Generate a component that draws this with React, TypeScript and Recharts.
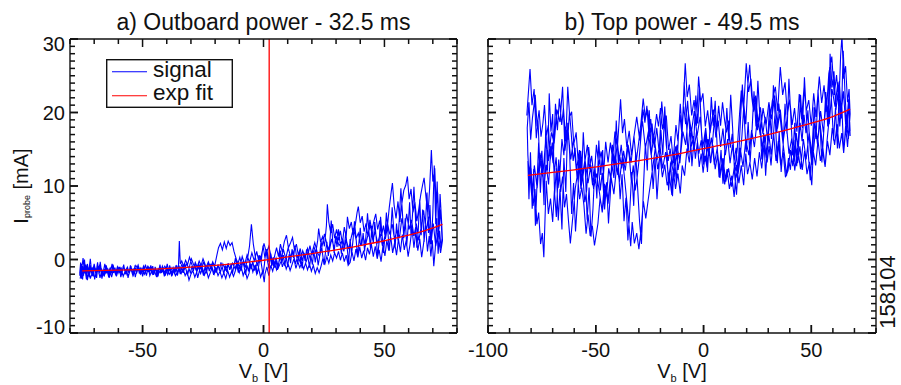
import React from 'react';
import { LineChart, Line, XAxis, YAxis, ReferenceLine, Legend } from 'recharts';

// ---- data (V_b [V], I_probe [mA]) ----

// a) outboard power, 32.5 ms
const outboardDense: number[][] = [
  [-76.0, -1.9], [-75.6, -0.4], [-75.2, -2.6], [-74.8, -0.9], [-74.4, -2.2], [-74.0, 0.0], [-73.6, -1.8], [-73.2, -2.7],
  [-72.8, -0.6], [-72.4, -1.6], [-72.0, -2.4], [-71.6, -0.8], [-71.2, -1.9], [-70.8, -1.1], [-70.4, -2.3], [-70.0, -0.9],
  [-69.5, -1.7], [-69.0, -2.5], [-68.5, -1.0], [-68.0, -1.9], [-67.5, -0.3], [-67.0, -1.6], [-66.5, -2.3], [-66.0, -1.2],
  [-65.5, -2.0], [-65.0, -0.8], [-64.5, -1.7], [-64.0, -2.4], [-63.4, -1.1], [-62.8, -1.9], [-62.2, -0.7], [-61.6, -1.6],
  [-61.0, -2.2], [-60.4, -1.0], [-59.8, -1.8], [-59.2, -1.2], [-58.6, -2.1], [-58.0, -0.9], [-57.4, -1.5], [-56.8, -2.0],
  [-56.2, -1.1], [-55.6, -1.7], [-55.0, -0.8], [-54.4, -1.6], [-53.8, -2.1], [-53.2, -1.0], [-52.6, -1.5], [-52.0, -0.9],
  [-51.4, -1.8], [-50.8, -1.2], [-50.2, -1.9], [-49.6, -0.9], [-49.0, -1.4], [-48.4, -2.2], [-47.8, -1.3], [-47.2, -1.8],
  [-46.6, -0.8], [-46.0, -1.5], [-45.4, -2.1], [-44.8, -1.0], [-44.2, -1.6], [-43.6, -2.3], [-43.0, -1.1], [-42.4, -1.7],
  [-41.8, -0.9], [-41.2, -1.5], [-40.6, -2.2], [-40.0, -1.2], [-39.4, -1.8], [-38.8, -0.8], [-38.2, -1.5], [-37.6, -2.0],
  [-37.0, -1.1], [-36.4, -1.6], [-35.8, -0.9], [-35.2, -1.4], [-34.8, 2.5], [-34.4, -0.6],
];

const outboardUp: number[][] = [
  [-33.8, -0.2], [-33.0, -0.9], [-32.2, -0.1], [-31.4, -0.7], [-30.6, 0.3], [-29.8, -0.5], [-29.0, -1.3], [-28.2, -0.4],
  [-27.4, -1.0], [-26.6, -0.2], [-25.8, -0.8], [-25.0, 0.1], [-24.2, -0.6], [-23.4, -1.4], [-22.6, -0.5], [-21.8, -1.1],
  [-21.0, -0.3], [-20.2, -0.9], [-19.4, 0.4], [-18.6, 1.6], [-17.8, 2.2], [-17.0, 1.3], [-16.2, 2.4], [-15.4, 1.5],
  [-14.6, 2.5], [-13.8, 1.9], [-13.0, 2.3], [-12.2, 1.1], [-11.4, 0.2], [-10.6, -0.6], [-9.8, 0.3], [-9.0, -0.8],
  [-8.2, -0.2], [-7.4, -1.1], [-6.6, 0.1], [-5.8, 1.8], [-5.0, 4.8], [-4.2, 2.1], [-3.4, 0.4], [-2.6, -0.9],
  [-1.8, 0.6], [-1.0, -0.4], [-0.2, 1.9], [0.6, 0.2], [1.4, 1.4], [2.2, -0.3], [3.0, 0.8], [3.8, -0.6],
  [4.6, 0.5], [5.4, 1.6], [6.2, 0.4], [7.0, 2.1], [7.8, 1.0], [8.6, 2.4], [9.5, 3.3], [10.3, 1.6],
  [11.1, 2.2], [12.0, 3.0], [12.8, 1.3], [13.6, 2.1], [14.4, 0.6], [15.2, 1.5], [16.0, -0.2], [16.8, 0.9],
  [17.6, -0.4], [18.4, 0.7], [19.2, 1.9], [20.0, 0.6], [20.8, 1.8], [21.6, 0.9], [22.4, 2.6], [22.8, 4.2],
  [23.6, 2.4], [24.4, 3.1], [25.2, 1.8], [26.0, 4.6], [26.4, 7.5], [27.0, 5.1], [27.8, 3.6], [28.6, 4.8],
  [29.4, 2.9], [30.2, 4.1], [31.0, 2.6], [31.8, 3.9], [32.6, 2.2], [33.4, 4.4], [34.2, 3.1], [34.7, 5.8],
  [35.5, 4.2], [36.3, 5.1], [37.1, 3.3], [37.9, 4.6], [38.7, 6.4], [39.2, 7.2], [40.0, 5.0], [40.8, 5.9],
  [41.6, 3.8], [42.4, 4.9], [43.2, 3.1], [44.0, 5.4], [44.8, 3.9], [45.6, 5.2], [46.4, 6.2], [47.2, 4.1],
  [48.0, 5.3], [48.8, 3.2], [49.6, 4.6], [50.4, 2.8], [51.2, 4.4], [52.0, 7.1], [52.8, 9.2], [53.3, 10.4],
  [54.0, 7.4], [54.8, 5.6], [55.6, 7.9], [56.4, 5.1], [57.2, 7.6], [58.0, 9.4], [58.8, 10.1], [59.5, 11.3],
  [60.2, 8.2], [61.0, 9.6], [61.8, 6.4], [62.6, 7.8], [63.4, 5.2], [64.2, 6.9], [65.0, 8.8], [65.8, 10.2],
  [66.4, 11.1], [67.2, 8.4], [68.0, 6.1], [68.7, 9.8], [69.4, 14.9], [70.0, 10.6], [70.8, 12.4], [71.4, 7.3],
  [72.0, 9.1], [72.6, 4.2], [73.2, 6.8], [73.8, 2.9],
];

const outboardDown: number[][] = [
  [73.4, 1.6], [72.8, 3.9], [72.2, 0.8], [71.6, 5.6], [71.0, 1.4], [70.4, -0.9], [69.8, 2.6], [69.2, 0.4],
  [68.5, 3.2], [67.8, 1.1], [67.0, 4.6], [66.2, 2.2], [65.4, 0.3], [64.6, 2.8], [63.8, 1.2], [63.0, 3.9],
  [62.2, 1.6], [61.4, 4.2], [60.6, 2.1], [59.8, 0.4], [59.0, 2.6], [58.2, 1.3], [57.4, 3.4], [56.6, 1.0],
  [55.8, 2.8], [55.0, 0.6], [54.2, 2.3], [53.4, 0.9], [52.6, 3.1], [51.8, 1.2], [51.0, 2.6], [50.2, 0.5],
  [49.4, 1.9], [48.6, -0.3], [47.8, 1.3], [47.0, 0.1], [46.2, 1.8], [45.4, 0.4], [44.6, 2.1], [43.8, 0.7],
  [43.0, 1.6], [42.2, -0.1], [41.4, 1.2], [40.6, 0.2], [39.8, 1.7], [39.0, 0.3], [38.2, 1.4], [37.4, -0.2],
  [36.6, 1.0], [35.8, -0.4], [35.0, -0.8], [34.2, 0.6], [33.4, -0.3], [32.6, 0.9], [31.8, -0.1], [31.0, 1.1],
  [30.2, 0.2], [29.4, 0.9], [28.6, -0.2], [27.8, 0.6], [27.0, -0.5], [26.2, 0.4], [25.4, -0.6], [24.6, 0.2],
  [23.8, -0.9], [23.0, -1.8], [22.2, -1.1], [21.4, -1.9], [20.6, -0.8], [19.8, -1.6], [19.0, -0.6], [18.2, -1.4],
  [17.4, -0.5], [16.6, -1.3], [15.8, -0.4], [15.0, -1.1], [14.2, -0.3], [13.4, -1.2], [12.6, 0.1], [11.8, -0.7],
  [11.0, -1.5], [10.2, -0.6], [9.4, -1.3], [8.6, -0.2], [7.8, -1.0], [7.0, 0.4], [6.2, -0.6], [5.4, -1.4],
  [4.6, -0.5], [3.8, -1.6], [3.0, -0.8], [2.2, -2.2], [1.4, -1.0], [0.6, -2.0], [0.3, -3.1], [-0.4, -1.6],
  [-1.2, -2.4], [-2.0, -1.2], [-2.8, -2.0], [-3.6, -0.8], [-4.4, -1.7], [-5.2, -0.6], [-6.0, -1.9], [-6.8, -2.6],
  [-7.6, -1.4], [-8.4, -2.2], [-9.2, -1.0], [-10.0, -1.8], [-10.8, -0.6], [-11.6, -1.5], [-12.4, -2.3], [-13.2, -1.6],
  [-14.0, -2.4], [-14.8, -1.5], [-15.6, -2.6], [-16.4, -1.8], [-17.2, -2.5], [-18.0, -1.6], [-18.8, -2.2], [-19.6, -1.3],
  [-20.4, -2.0], [-21.2, -1.1], [-22.0, -1.8], [-22.8, -2.5], [-23.6, -1.4], [-24.4, -2.1], [-25.2, -1.2], [-26.0, -1.9],
  [-26.8, -1.0], [-27.6, -1.7], [-28.4, -2.4], [-29.2, -1.5], [-30.0, -2.0], [-30.8, -2.8], [-31.6, -1.6], [-32.4, -2.2],
  [-33.2, -1.3], [-34.0, -1.9], [-34.8, -1.0], [-35.6, -1.7], [-36.4, -2.2], [-37.2, -1.2], [-38.0, -1.9], [-38.8, -1.3],
  [-39.6, -2.1], [-40.4, -1.4], [-41.2, -2.0], [-42.0, -1.1], [-42.8, -1.8], [-43.6, -1.3], [-44.4, -2.2], [-45.2, -1.5],
  [-46.0, -1.9], [-46.8, -1.0], [-47.6, -1.6], [-48.4, -1.2], [-49.2, -2.0], [-50.0, -1.3], [-50.8, -1.7], [-51.6, -1.0],
  [-52.4, -1.8], [-53.2, -1.4], [-54.0, -2.2], [-54.8, -1.3], [-55.6, -1.9], [-56.4, -1.1], [-57.2, -1.6], [-58.0, -2.3],
  [-58.8, -1.2], [-59.6, -1.7], [-60.4, -1.0], [-61.2, -1.9], [-62.0, -1.4], [-62.8, -2.4], [-63.6, -1.3], [-64.4, -1.9],
  [-65.2, -1.0], [-66.0, -2.1], [-66.8, -1.4], [-67.6, -2.5], [-68.4, -1.2], [-69.2, -2.0], [-70.0, -0.6], [-70.8, -1.8],
  [-71.6, -2.6], [-72.4, -1.1], [-73.2, -2.3], [-74.0, -0.2], [-74.8, -2.7], [-75.6, -1.2], [-76.0, -2.2],
];

const outboardMid: number[][] = [
  [-75.4, -0.6], [-74.6, -2.0], [-73.8, -1.0], [-72.8, -2.5], [-71.8, -1.3], [-70.8, -2.1], [-69.8, -1.0], [-68.8, -1.8],
  [-67.8, -0.8], [-66.8, -1.5], [-65.8, -2.2], [-64.8, -1.1], [-63.8, -1.8], [-62.8, -0.9], [-61.8, -1.5], [-60.8, -2.0],
  [-59.8, -1.1], [-58.8, -1.6], [-57.8, -1.0], [-56.8, -1.7], [-55.8, -2.2], [-54.8, -1.1], [-53.8, -1.5], [-52.8, -0.8],
  [-51.8, -1.4], [-50.8, -2.0], [-49.8, -1.1], [-48.8, -1.6], [-47.8, -0.9], [-46.8, -1.4], [-45.8, -2.0], [-44.8, -1.2],
  [-43.8, -1.7], [-42.8, -1.0], [-41.8, -1.6], [-40.8, -0.9], [-39.8, -1.5], [-38.8, -2.0], [-37.8, -1.1], [-36.8, -1.7],
  [-35.8, -1.0], [-34.8, -1.6], [-33.8, -0.7], [-32.8, -1.4], [-31.8, -0.6], [-30.8, -1.2], [-29.8, 0.1], [-28.8, -0.8],
  [-27.8, -1.5], [-26.8, -0.6], [-25.8, -1.3], [-24.8, -0.4], [-23.8, -1.1], [-22.8, -0.3], [-21.8, -1.2], [-20.8, -0.5],
  [-19.8, -1.6], [-18.8, -0.8], [-17.8, -1.7], [-16.8, -0.6], [-15.8, -1.4], [-14.8, -0.7], [-13.8, -1.3], [-12.8, -0.5],
  [-11.8, -1.2], [-10.8, -0.3], [-9.8, -1.1], [-8.8, 0.4], [-7.8, -0.7], [-6.8, 0.6], [-5.8, -0.4], [-4.8, 0.9],
  [-3.8, -0.2], [-2.8, 1.1], [-1.8, -0.5], [-0.8, 0.7], [0.2, 2.2], [1.2, 0.9], [2.2, 1.8], [3.2, 0.3],
  [4.2, -0.9], [5.2, 0.2], [6.2, -1.1], [7.2, -0.3], [8.2, 1.4], [9.2, 0.1], [10.2, 1.6], [11.2, 0.4],
  [12.2, 1.1], [13.2, -0.6], [14.2, 0.5], [15.2, -0.4], [16.2, 1.2], [17.2, 0.3], [18.2, 1.5], [19.2, 0.2],
  [20.2, 1.1], [21.2, 2.3], [22.2, 1.0], [23.2, 0.4], [24.2, 1.8], [25.2, 3.5], [26.2, 2.1], [27.2, 1.2],
  [28.2, 2.8], [29.2, 1.6], [30.2, 3.0], [31.2, 1.9], [32.2, 2.4], [33.2, 1.1], [34.2, 2.7], [35.2, 1.4],
  [36.2, 2.9], [37.2, 4.3], [38.2, 2.8], [39.2, 3.6], [40.2, 1.9], [41.2, 3.1], [42.2, 2.0], [43.2, 3.4],
  [44.2, 4.7], [45.2, 2.6], [46.2, 3.8], [47.2, 2.2], [48.2, 3.5], [49.2, 1.8], [50.2, 3.2], [51.2, 5.1],
  [52.2, 3.4], [53.2, 4.8], [54.2, 2.7], [55.2, 4.1], [56.2, 2.9], [57.2, 5.6], [58.2, 3.8], [59.2, 6.2],
  [60.2, 4.1], [61.2, 5.4], [62.2, 3.2], [63.2, 4.9], [64.2, 2.6], [65.2, 4.4], [66.2, 6.7], [67.2, 3.9],
  [68.2, 5.8], [69.2, 2.1], [70.2, 4.9], [71.2, 1.8], [72.2, 3.6], [73.2, 0.9], [74.0, 2.6],
];

const outboardBack: number[][] = [
  [73.6, 5.4], [73.0, 8.9], [72.4, 3.1], [71.8, 10.6], [71.2, 4.8], [70.6, 12.8], [70.0, 6.2], [69.4, 2.3],
  [68.8, 7.4], [68.2, 3.6], [67.6, 9.1], [67.0, 5.2], [66.4, 2.4], [65.8, 6.8], [65.2, 3.3], [64.6, 8.2],
  [64.0, 4.1], [63.4, 1.6], [62.8, 5.9], [62.2, 9.9], [61.6, 6.1], [61.0, 3.2], [60.4, 7.8], [59.8, 4.4],
  [59.2, 1.8], [58.6, 5.6], [58.0, 2.9], [57.4, 6.6], [56.8, 9.7], [56.2, 5.8], [55.6, 2.6], [55.0, 4.9],
  [54.4, 1.5], [53.8, 4.2], [53.2, 7.1], [52.6, 3.6], [52.0, 1.2], [51.4, 3.9], [50.8, 6.4], [50.2, 3.1],
  [49.6, 0.9], [49.0, 3.5], [48.4, 5.8], [47.8, 2.4], [47.2, 0.4], [46.6, 2.9], [46.0, 5.1], [45.4, 2.2],
  [44.8, 4.6], [44.2, 1.6], [43.6, 3.8], [43.0, 6.3], [42.4, 3.4], [41.8, 1.1], [41.2, 3.6], [40.6, 1.9],
  [40.0, 4.3], [39.4, 2.1], [38.8, 0.6], [38.2, 3.2], [37.6, 5.2], [37.0, 2.6], [36.4, 0.7], [35.8, 2.8],
  [35.2, -0.6], [34.6, 1.6], [34.0, 3.8], [33.4, 1.4], [32.8, 2.9], [32.2, 0.8], [31.6, 2.4], [31.0, 4.1],
  [30.4, 1.7], [29.8, 3.2], [29.2, 0.9], [28.6, 2.6], [28.0, 5.3], [27.4, 2.2], [26.8, 0.5], [26.2, 2.4],
  [25.6, 0.9], [25.0, -0.7], [24.4, 0.8], [23.8, 2.6], [23.2, 0.4], [22.6, -0.8], [22.0, 0.9], [21.4, -0.4],
  [20.8, 1.2], [20.2, -0.7], [19.6, 0.5], [19.0, -1.1], [18.4, 0.3], [17.8, 1.4], [17.2, -0.2], [16.6, 0.9],
  [16.0, -1.2], [15.4, -0.2], [14.8, 1.1], [14.2, -0.6], [13.6, 0.6], [13.0, 1.9], [12.4, 0.2], [11.8, 1.4],
  [11.2, -0.5], [10.6, 0.7], [10.0, -1.0], [9.4, 0.4], [8.8, -0.9], [8.2, 0.6], [7.6, -0.5], [7.0, 1.2],
  [6.4, -0.3], [5.8, -1.4], [5.2, -0.2], [4.6, -1.1], [4.0, 0.3], [3.4, -0.9], [2.8, 0.6], [2.2, -1.2],
  [1.6, -0.1], [1.0, 1.4], [0.4, -0.6], [-0.2, -2.1], [-0.8, -0.8], [-1.4, 0.5], [-2.0, -0.9], [-2.6, -2.0],
  [-3.2, -0.7], [-3.8, -1.5], [-4.4, -0.2], [-5.0, -1.3], [-5.6, -0.4], [-6.2, -1.6], [-6.8, -0.8], [-7.4, -2.1],
  [-8.0, -1.0], [-8.6, -0.3], [-9.2, -1.5], [-9.8, -0.7], [-10.4, -1.8], [-11.0, -0.9], [-11.6, 0.2], [-12.2, -0.8],
  [-12.8, -1.9], [-13.4, -0.6], [-14.0, -1.4], [-14.6, -0.5], [-15.2, -1.7], [-15.8, -0.8], [-16.4, -2.0], [-17.0, -1.1],
  [-17.6, -0.4], [-18.2, -1.5], [-18.8, -0.7], [-19.4, -1.8], [-20.0, -1.0], [-20.6, -2.1], [-21.2, -1.3], [-21.8, -0.6],
  [-22.4, -1.6], [-23.0, -0.8], [-23.6, -1.9], [-24.2, -1.0], [-24.8, -2.2], [-25.4, -1.4], [-26.0, -0.7], [-26.6, -1.7],
  [-27.2, -2.5], [-27.8, -1.3], [-28.4, -0.6], [-29.0, -1.6], [-29.6, -0.9], [-30.2, -1.9], [-30.8, -1.2], [-31.4, -2.2],
  [-32.0, -1.4], [-32.6, -0.5], [-33.2, -1.8], [-33.8, -1.1], [-34.4, -2.0], [-35.0, -1.3], [-35.6, -2.2], [-36.2, -0.8],
  [-36.8, -1.9], [-37.4, -1.4], [-38.0, -2.3], [-38.6, -1.0], [-39.2, -1.7], [-39.8, -0.6], [-40.4, -1.5], [-41.0, -2.3],
  [-41.6, -1.2], [-42.2, -1.8], [-42.8, -0.7], [-43.4, -1.6], [-44.0, -2.4], [-44.6, -1.1], [-45.2, -1.9], [-45.8, -0.9],
  [-46.4, -1.7], [-47.0, -2.2], [-47.6, -1.0], [-48.2, -1.6], [-48.8, -0.7], [-49.4, -1.5], [-50.0, -2.3], [-50.6, -1.1],
  [-51.2, -1.8], [-51.8, -0.8], [-52.4, -1.4], [-53.0, -2.4], [-53.6, -1.2], [-54.2, -1.9], [-54.8, -0.9], [-55.4, -1.6],
  [-56.0, -2.5], [-56.6, -1.3], [-57.2, -1.8], [-57.8, -0.7], [-58.4, -1.7], [-59.0, -2.4], [-59.6, -1.0], [-60.2, -1.6],
  [-60.8, -2.3], [-61.4, -1.1], [-62.0, -1.8], [-62.6, -0.6], [-63.2, -1.5], [-63.8, -2.5], [-64.4, -1.2], [-65.0, -1.9],
  [-65.6, -0.6], [-66.2, -1.6], [-66.8, -2.6], [-67.4, -1.1], [-68.0, -2.0], [-68.6, -0.4], [-69.2, -1.7], [-69.8, -2.7],
  [-70.4, -1.0], [-71.0, -1.9], [-71.6, 0.1], [-72.2, -1.5], [-72.8, -2.8], [-73.4, -0.7], [-74.0, -1.9], [-74.6, 0.2],
  [-75.2, -1.4], [-75.8, -2.6],
];

const outboardFit: number[][] = [
  [-75, -1.55], [-60, -1.45], [-45, -1.3], [-30, -1.05], [-15, -0.65], [0, -0.1], [10, 0.35],
  [20, 0.8], [30, 1.3], [40, 1.9], [50, 2.55], [60, 3.3], [68, 4.05], [74, 4.77],
];

const outboardFloating = 2.35;

// b) top power, 49.5 ms
const topSweep1: number[][] = [
  [-82.0, 19.6], [-80.5, 25.9], [-79.6, 21.0], [-78.6, 23.2], [-77.6, 16.5], [-76.8, 18.9], [-75.9, 12.4], [-75.0, 14.8],
  [-74.1, 9.6], [-73.0, 12.9], [-71.9, 10.2], [-70.8, 15.4], [-69.8, 13.1], [-68.7, 21.2], [-67.8, 17.6], [-66.9, 21.9],
  [-65.8, 18.3], [-65.0, 20.6], [-63.9, 16.1], [-63.0, 23.5], [-62.1, 19.4], [-61.2, 20.1], [-60.2, 15.7], [-59.1, 17.3],
  [-58.0, 12.6], [-57.0, 14.8], [-56.0, 11.2], [-55.0, 13.4], [-53.9, 15.6], [-53.0, 12.3], [-51.9, 14.1], [-50.8, 10.8],
  [-49.7, 15.6], [-48.6, 12.9], [-47.5, 14.7], [-46.4, 11.6], [-45.4, 16.0], [-44.3, 13.2], [-43.2, 15.9], [-42.2, 13.6],
  [-41.1, 17.4], [-40.0, 15.1], [-38.5, 21.8], [-37.6, 17.2], [-36.7, 19.1], [-35.6, 15.3], [-34.5, 17.5], [-33.4, 14.2],
  [-32.3, 16.8], [-31.2, 13.4], [-30.1, 15.9], [-29.0, 18.7], [-28.0, 21.9], [-27.0, 19.2], [-26.0, 20.4], [-25.0, 16.7],
  [-23.9, 18.5], [-22.8, 15.2], [-21.7, 17.9], [-20.6, 14.6], [-19.4, 21.5], [-18.4, 17.8], [-17.3, 19.6], [-16.2, 14.9],
  [-15.1, 16.8], [-14.0, 13.1], [-12.9, 15.4], [-11.8, 12.2], [-10.7, 14.6], [-9.6, 19.8], [-8.5, 26.7], [-7.6, 22.1],
  [-6.6, 23.8], [-5.5, 19.6], [-4.4, 21.7], [-3.3, 18.2], [-2.3, 24.9], [-1.3, 21.4], [-0.3, 22.6], [0.8, 18.1],
  [1.9, 20.3], [3.0, 17.2], [4.6, 20.4], [5.7, 16.6], [6.8, 18.9], [7.9, 15.3], [9.0, 17.8], [10.1, 14.2],
  [11.2, 16.4], [12.3, 13.1], [13.4, 15.6], [14.5, 12.4], [15.6, 14.9], [16.7, 19.8], [17.5, 23.0], [18.6, 20.4],
  [19.8, 26.7], [20.9, 22.8], [22.0, 24.6], [23.1, 20.1], [24.2, 22.3], [25.3, 18.6], [26.4, 20.7], [27.5, 17.1],
  [28.6, 19.4], [29.7, 16.2], [30.8, 18.9], [31.9, 21.6], [33.3, 23.5], [34.4, 20.2], [35.6, 26.2], [36.7, 22.4],
  [37.8, 24.1], [38.9, 19.7], [40.0, 21.8], [41.1, 18.3], [42.2, 20.6], [43.3, 17.4], [44.4, 22.5], [45.5, 19.1],
  [46.6, 23.4], [47.7, 20.3], [48.8, 21.7], [50.0, 18.2], [51.1, 22.6], [52.2, 19.4], [53.7, 24.9], [54.8, 21.3],
  [55.9, 23.7], [57.0, 20.1], [58.1, 25.3], [59.5, 27.6], [60.6, 22.4], [61.7, 25.1], [62.8, 21.2], [63.6, 27.8],
  [64.2, 30.4], [65.0, 24.6], [65.9, 26.3], [66.8, 21.4], [67.5, 23.2], [68.0, 19.8],
];

const topSweep2: number[][] = [
  [67.2, 16.4], [66.3, 18.7], [65.0, 14.5], [64.1, 17.2], [63.0, 15.1], [61.9, 18.4], [60.8, 15.6], [59.7, 17.9],
  [58.6, 14.2], [57.5, 16.1], [56.4, 12.6], [55.3, 15.3], [54.2, 13.4], [53.1, 16.2], [52.0, 12.8], [50.9, 14.7],
  [50.2, 10.1], [49.1, 13.3], [48.0, 11.6], [46.9, 14.8], [45.8, 12.2], [44.7, 15.4], [43.6, 13.1], [42.5, 16.3],
  [41.4, 12.7], [40.3, 14.9], [39.2, 12.1], [38.0, 11.2], [36.9, 14.6], [35.8, 12.8], [34.7, 16.1], [33.6, 13.4],
  [32.5, 17.2], [31.4, 14.3], [30.3, 16.9], [29.2, 13.8], [28.1, 15.7], [27.0, 12.4], [25.9, 14.6], [24.8, 11.3],
  [23.7, 13.8], [22.6, 10.9], [21.5, 13.2], [20.4, 11.6], [19.6, 14.4], [18.6, 10.1], [17.5, 12.8], [16.4, 10.4],
  [15.3, 12.9], [14.2, 8.5], [13.1, 11.4], [12.0, 9.6], [10.9, 12.3], [9.8, 10.2], [8.7, 13.6], [7.6, 11.1],
  [6.5, 14.2], [5.4, 12.3], [4.3, 15.6], [3.2, 13.1], [2.1, 16.4], [1.0, 13.6], [0.0, 13.1], [-1.1, 16.2],
  [-2.2, 14.4], [-3.3, 17.3], [-4.4, 14.9], [-5.5, 17.6], [-6.6, 13.2], [-7.7, 15.1], [-8.8, 11.4], [-9.9, 12.8],
  [-10.8, 9.0], [-11.9, 11.7], [-13.0, 9.6], [-14.1, 12.2], [-14.7, 8.8], [-15.8, 11.3], [-16.9, 10.1], [-18.0, 12.9],
  [-19.1, 11.2], [-20.2, 14.1], [-21.3, 12.3], [-22.4, 15.2], [-23.5, 12.6], [-24.6, 10.4], [-25.7, 8.1], [-26.8, 5.6],
  [-27.9, 7.9], [-29.0, 4.1], [-30.0, 1.4], [-31.0, 3.6], [-32.1, 2.2], [-33.1, 5.1], [-33.8, 1.8], [-34.6, 4.7],
  [-35.5, 7.6], [-36.4, 10.3], [-37.3, 12.9], [-38.2, 15.6], [-39.1, 13.4], [-40.0, 16.1], [-41.0, 12.8], [-42.0, 14.6],
  [-43.0, 10.9], [-44.0, 12.4], [-45.0, 8.6], [-46.0, 10.3], [-47.0, 6.7], [-48.0, 8.4], [-49.0, 4.9], [-50.6, 1.9],
  [-51.6, 4.6], [-52.6, 3.2], [-53.6, 6.1], [-54.5, 3.5], [-55.5, 7.4], [-56.5, 9.8], [-57.5, 8.2], [-58.5, 11.6],
  [-59.5, 9.7], [-60.5, 6.3], [-61.8, 2.2], [-62.7, 5.4], [-63.6, 8.9], [-64.5, 7.1], [-65.4, 11.3], [-66.3, 9.2],
  [-67.2, 13.6], [-68.3, 5.8], [-69.2, 9.4], [-70.0, 5.1], [-71.0, 8.3], [-72.0, 6.2], [-73.0, 10.7], [-74.1, 0.3],
  [-74.8, 3.6], [-75.6, 2.1], [-76.5, 6.4], [-77.3, 4.8], [-78.2, 9.6], [-79.1, 7.3], [-80.0, 12.4], [-80.8, 10.6],
  [-81.5, 14.2],
];

const topSweep3: number[][] = [
  [-81.8, 17.9], [-81.0, 21.4], [-80.2, 16.3], [-79.4, 19.2], [-78.1, 22.4], [-77.2, 18.1], [-76.3, 20.3], [-75.4, 16.7],
  [-74.5, 18.6], [-73.8, 21.0], [-72.9, 16.9], [-72.0, 18.3], [-71.1, 13.6], [-70.2, 15.9], [-69.3, 11.8], [-68.4, 13.9],
  [-67.5, 9.7], [-66.6, 12.1], [-65.7, 16.4], [-64.8, 14.2], [-63.9, 18.1], [-63.0, 16.3], [-62.2, 20.1], [-61.4, 17.2],
  [-60.5, 13.4], [-59.6, 15.2], [-58.7, 11.1], [-57.8, 13.3], [-56.9, 9.6], [-56.0, 11.4], [-55.1, 7.8], [-54.2, 9.5],
  [-53.3, 15.3], [-52.4, 12.6], [-51.5, 10.1], [-50.6, 11.9], [-49.7, 15.6], [-48.8, 13.2], [-47.9, 9.4], [-47.0, 11.8],
  [-46.1, 7.9], [-45.2, 10.2], [-44.3, 8.1], [-43.4, 10.6], [-42.5, 12.9], [-41.6, 11.1], [-40.7, 13.8], [-39.8, 11.5],
  [-38.9, 14.2], [-38.0, 12.4], [-37.1, 14.8], [-36.2, 13.1], [-35.3, 15.7], [-34.4, 13.9], [-33.5, 10.6], [-32.6, 12.8],
  [-31.7, 9.4], [-30.8, 11.2], [-29.9, 13.6], [-29.0, 16.9], [-28.1, 20.4], [-27.2, 18.6], [-26.3, 20.9], [-25.4, 17.3],
  [-24.5, 19.1], [-23.6, 15.8], [-22.7, 17.4], [-21.8, 19.8], [-20.9, 18.1], [-20.0, 20.6], [-19.1, 17.7], [-18.2, 19.2],
  [-17.3, 15.6], [-16.4, 13.4], [-15.5, 15.1], [-14.6, 12.7], [-13.7, 14.9], [-12.8, 18.3], [-11.9, 16.1], [-11.0, 19.7],
  [-10.1, 17.2], [-9.2, 20.8], [-8.3, 18.4], [-7.4, 21.6], [-6.5, 17.9], [-5.6, 15.4], [-4.7, 16.8], [-3.8, 13.7],
  [-2.9, 15.9], [-2.0, 12.6], [-1.1, 14.4], [-0.2, 11.8], [0.7, 14.1], [1.6, 12.5], [2.5, 15.3], [3.4, 13.2],
  [4.3, 16.4], [5.2, 19.7], [6.1, 17.6], [7.0, 20.9], [7.9, 18.2], [8.8, 21.4], [9.7, 19.1], [10.6, 17.3],
  [11.5, 18.9], [12.4, 15.2], [13.3, 17.1], [14.2, 13.4], [15.1, 15.2], [16.0, 11.6], [16.9, 13.5], [17.8, 16.8],
  [18.7, 21.1], [19.6, 18.4], [20.5, 23.6], [21.4, 26.5], [22.3, 22.3], [23.2, 20.1], [24.1, 21.9], [25.0, 17.6],
  [25.9, 19.8], [26.8, 16.3], [27.7, 14.6], [28.6, 16.9], [29.5, 13.2], [30.4, 15.4], [31.3, 12.8], [32.2, 16.2],
  [33.1, 19.6], [34.0, 17.3], [34.9, 21.2], [35.8, 18.6], [36.7, 16.2], [37.6, 14.1], [38.5, 11.4], [39.4, 13.8],
  [40.3, 12.2], [41.2, 15.6], [42.1, 13.3], [43.0, 17.2], [43.9, 14.8], [44.8, 18.6], [45.7, 16.1], [46.6, 19.7],
  [47.5, 17.2], [48.4, 20.3], [49.3, 15.6], [50.2, 12.9], [51.1, 15.1], [52.0, 17.8], [52.9, 15.6], [53.8, 19.2],
  [54.7, 16.8], [55.6, 14.1], [56.4, 12.6], [57.3, 16.2], [58.2, 18.9], [58.7, 28.0], [59.6, 23.4], [60.5, 25.6],
  [61.4, 20.3], [62.3, 22.6], [63.2, 18.1], [64.1, 21.4], [65.0, 14.5], [65.9, 18.2], [66.8, 15.3], [67.7, 19.1],
  [68.0, 17.4],
];

const topSweep4: number[][] = [
  [67.3, 21.8], [66.1, 17.6], [64.9, 22.9], [63.6, 19.3], [62.3, 24.1], [61.0, 20.8], [59.6, 23.2], [58.3, 18.4],
  [57.0, 21.7], [55.6, 17.3], [54.3, 20.2], [53.0, 16.1], [51.6, 18.7], [50.3, 14.2], [49.0, 17.3], [47.6, 13.6],
  [46.3, 16.4], [45.0, 12.3], [43.6, 15.2], [42.3, 12.1], [41.0, 16.6], [39.6, 14.4], [38.3, 18.9], [37.0, 16.2],
  [35.6, 20.4], [34.3, 17.8], [33.0, 22.3], [31.6, 19.1], [30.3, 21.4], [29.0, 18.2], [27.6, 20.6], [26.3, 16.9],
  [25.0, 19.4], [23.6, 15.3], [22.3, 17.6], [21.0, 14.2], [19.6, 16.3], [18.3, 12.6], [17.0, 15.2], [15.6, 11.1],
  [14.4, 12.9], [13.0, 9.9], [11.6, 12.4], [10.3, 10.6], [9.0, 13.8], [7.6, 11.7], [6.3, 15.1], [5.0, 12.9],
  [3.6, 16.6], [2.3, 14.1], [1.0, 17.9], [-0.3, 15.3], [-1.6, 19.4], [-3.0, 16.8], [-4.3, 20.2], [-5.6, 17.4],
  [-7.0, 19.9], [-8.3, 15.6], [-9.6, 17.4], [-11.0, 13.1], [-12.3, 15.6], [-13.6, 11.2], [-15.0, 13.4], [-16.2, 11.2],
  [-17.6, 14.6], [-19.0, 12.4], [-20.3, 15.7], [-21.6, 13.5], [-23.0, 16.9], [-24.3, 14.2], [-25.6, 17.4], [-27.0, 15.1],
  [-28.3, 18.8], [-29.6, 16.2], [-31.0, 19.4], [-32.3, 16.7], [-33.6, 13.2], [-35.0, 15.6], [-36.3, 12.1], [-37.6, 14.3],
  [-39.0, 10.6], [-40.3, 12.8], [-41.6, 8.9], [-43.0, 11.4], [-44.3, 7.6], [-45.6, 9.8], [-47.0, 6.4], [-48.3, 9.1],
  [-49.6, 11.7], [-51.0, 9.6], [-52.3, 12.8], [-53.6, 10.4], [-55.0, 13.6], [-56.3, 11.2], [-57.6, 14.9], [-59.0, 12.1],
  [-60.3, 16.3], [-61.6, 13.6], [-63.0, 17.9], [-64.3, 14.8], [-65.4, 23.5], [-66.6, 18.7], [-68.0, 20.4], [-69.3, 15.8],
  [-70.6, 17.3], [-72.0, 13.4], [-73.3, 16.1], [-74.6, 11.2], [-75.9, 14.5], [-77.2, 9.7], [-78.5, 12.8], [-79.6, 8.3],
  [-80.6, 11.6], [-81.5, 13.4],
];

const topSweep5: number[][] = [
  [-81.0, 8.2], [-80.3, 14.6], [-79.5, 6.9], [-78.8, 12.3], [-78.0, 4.6], [-77.2, 10.8], [-76.5, 15.9], [-75.7, 9.1],
  [-74.9, 13.7], [-74.0, 7.4], [-73.2, 18.3], [-72.4, 12.1], [-71.6, 22.6], [-70.8, 17.4], [-70.0, 19.8], [-69.1, 8.7],
  [-68.3, 12.4], [-67.4, 5.3], [-66.6, 9.6], [-65.7, 4.1], [-64.8, 13.8], [-63.9, 9.2], [-63.0, 18.6], [-62.1, 14.3],
  [-61.2, 6.2], [-60.3, 10.4], [-59.4, 3.8], [-58.5, 7.9], [-57.6, 14.2], [-56.7, 10.1], [-55.8, 17.3], [-54.9, 12.6],
  [-54.0, 5.4], [-53.1, 9.8], [-52.2, 3.1], [-51.3, 6.9], [-50.4, 12.8], [-49.5, 8.3], [-48.6, 16.2], [-47.7, 11.5],
  [-46.8, 14.9], [-45.9, 6.8], [-45.0, 10.5], [-44.1, 4.9], [-43.2, 9.2], [-42.3, 15.6], [-41.4, 11.8], [-40.5, 18.9],
  [-39.6, 13.4], [-38.7, 8.2], [-37.8, 11.6], [-36.9, 5.2], [-36.0, 8.4], [-35.1, 2.6], [-34.2, 6.8], [-33.3, 11.9],
  [-32.4, 7.3], [-31.5, 14.6], [-30.6, 9.8], [-29.7, 5.2], [-28.8, 2.1], [-27.9, 9.7], [-27.0, 15.8], [-26.1, 12.1],
  [-25.2, 20.3], [-24.3, 14.7], [-23.4, 9.6], [-22.5, 13.8], [-21.6, 8.2], [-20.7, 12.4], [-19.8, 17.6], [-18.9, 14.2],
  [-18.0, 20.8], [-17.1, 15.3], [-16.2, 9.4], [-15.3, 13.2], [-14.4, 8.6], [-13.5, 14.1], [-12.6, 10.3], [-11.7, 16.7],
  [-10.8, 21.2], [-9.9, 17.4], [-9.0, 24.1], [-8.1, 19.6], [-7.2, 14.3], [-6.3, 18.2], [-5.4, 12.7], [-4.5, 16.1],
  [-3.6, 22.3], [-2.7, 18.5], [-1.8, 23.4], [-0.9, 16.9], [0.0, 13.2], [0.9, 17.4], [1.8, 11.9], [2.7, 16.3],
  [3.6, 22.1], [4.5, 18.2], [5.4, 21.6], [6.3, 15.4], [7.2, 11.2], [8.1, 14.9], [9.0, 10.3], [9.9, 15.1],
  [10.8, 20.6], [11.7, 16.2], [12.6, 22.4], [13.5, 17.8], [14.4, 11.6], [15.3, 8.8], [16.2, 13.4], [17.1, 18.9],
  [18.0, 23.8], [18.9, 19.2], [19.8, 14.6], [20.7, 18.7], [21.6, 13.2], [22.5, 17.6], [23.4, 22.9], [24.3, 18.1],
  [25.2, 24.3], [26.1, 19.5], [27.0, 13.6], [27.9, 17.2], [28.8, 11.4], [29.7, 15.8], [30.6, 20.9], [31.5, 16.4],
  [32.4, 23.7], [33.3, 18.9], [34.2, 13.1], [35.1, 17.4], [36.0, 11.9], [36.9, 15.3], [37.8, 21.2], [38.7, 17.1],
  [39.6, 24.6], [40.5, 19.3], [41.4, 14.2], [42.3, 18.6], [43.2, 12.7], [44.1, 16.8], [45.0, 22.4], [45.9, 17.9],
  [46.8, 24.8], [47.7, 19.6], [48.6, 14.3], [49.5, 10.8], [50.4, 15.2], [51.3, 20.7], [52.2, 16.4], [53.1, 23.1],
  [54.0, 18.3], [54.9, 13.2], [55.8, 17.6], [56.7, 22.8], [57.6, 18.1], [58.5, 26.2], [59.4, 21.4], [60.3, 16.2],
  [61.2, 20.6], [62.1, 15.1], [63.0, 24.3], [63.9, 19.2], [64.8, 28.4], [65.7, 22.1], [66.6, 17.3], [67.4, 21.5],
  [68.0, 16.8],
];

const topFit: number[][] = [
  [-81.5, 11.45], [-70, 11.85], [-60, 12.2], [-45, 12.8], [-30, 13.45], [-15, 14.2], [0, 15.1],
  [10, 15.65], [20, 16.3], [30, 17.0], [40, 17.75], [50, 18.55], [60, 19.45], [68, 20.45],
];

// axes
const yDomain: [number, number] = [-10, 30];
const yMinorTicks = [-10, -9, -8, -7, -6, -5, -4, -3, -2, -1, 0, 1, 2, 3, 4, 5, 6, 7, 8, 9, 10, 11, 12, 13, 14, 15, 16, 17, 18, 19, 20, 21, 22, 23, 24, 25, 26, 27, 28, 29, 30];
const yMajorTicks = [-10, 0, 10, 20, 30];

const xDomainA: [number, number] = [-80, 80];
const xMinorTicksA = [-80, -70, -60, -50, -40, -30, -20, -10, 0, 10, 20, 30, 40, 50, 60, 70, 80];
const xMajorTicksA = [-50, 0, 50];

const xDomainB: [number, number] = [-100, 80];
const xMinorTicksB = [-100, -90, -80, -70, -60, -50, -40, -30, -20, -10, 0, 10, 20, 30, 40, 50, 60, 70, 80];
const xMajorTicksB = [-100, -50, 0, 50];

const titleA = 'a) Outboard power - 32.5 ms';
const titleB = 'b) Top power - 49.5 ms';
const shotNumber = '158104';

const toPoints = (rows: number[][]) => rows.map(([v, i]) => ({ v, i }));

const FONT = '"Liberation Sans", Arial, Helvetica, sans-serif';
const INK = '#111';
const BLUE = '#0000ff';
const RED = '#ff0000';
const frame = { stroke: INK, strokeWidth: 1.4 };

// plot box sizes (px), used to turn tick lengths into axis units
const PLOT_H = 294;
const PLOT_W_A = 387;
const PLOT_W_B = 388;
const MAJOR_LEN = 8;
const MINOR_LEN = 5;

const BlankTick = () => <g />;

const BottomLabel = (props: any) => (
  <text x={props.x} y={Number(props.y) + 24} textAnchor="middle" fontSize={20} fontFamily={FONT} fill={INK}>
    {props.payload.value}
  </text>
);

const LeftLabel = (props: any) => {
  const value = Number(props.payload.value);
  let dy = 7;
  if (value === yDomain[1]) dy += 5;
  if (value === yDomain[0]) dy -= 6;
  return (
    <text x={Number(props.x) - 5} y={Number(props.y) + dy} textAnchor="end" fontSize={20} fontFamily={FONT} fill={INK}>
      {value}
    </text>
  );
};

const TitleLabel = (text: string) => (props: any) => {
  const vb = props.viewBox;
  return (
    <text x={vb.x + vb.width / 2} y={vb.y + 30} textAnchor="middle" fontSize={23} fontFamily={FONT} fill={INK}>
      {text}
    </text>
  );
};

const VbLabel = (props: any) => {
  const vb = props.viewBox;
  return (
    <text x={vb.x + vb.width / 2} y={vb.y + 45} textAnchor="middle" fontSize={20} fontFamily={FONT} fill={INK}>
      V<tspan fontSize={11} dy={4}>b</tspan>
      <tspan dy={-4}> [V]</tspan>
    </text>
  );
};

const IprobeLabel = (props: any) => {
  const vb = props.viewBox;
  const cx = vb.x + 28;
  const cy = vb.y + vb.height / 2;
  return (
    <text x={cx} y={cy} transform={`rotate(-90, ${cx}, ${cy})`} textAnchor="middle" fontSize={20} fontFamily={FONT} fill={INK}>
      I<tspan fontSize={9} dy={2}>probe</tspan>
      <tspan dy={-2}> [mA]</tspan>
    </text>
  );
};

const ShotLabel = (props: any) => {
  const vb = props.viewBox;
  const cx = vb.x + 19;
  const cy = vb.y + 253;
  return (
    <text x={cx} y={cy} transform={`rotate(-90, ${cx}, ${cy})`} textAnchor="middle" fontSize={22} fontFamily={FONT} fill={INK}>
      {shotNumber}
    </text>
  );
};

const LegendBox = () => (
  <svg width={127} height={49} style={{ display: 'block', overflow: 'visible' }}>
    <rect x={0.7} y={0.7} width={125.6} height={47.6} fill="#fff" stroke={INK} strokeWidth={1.4} />
    <line x1={6} y1={12.7} x2={41} y2={12.7} stroke={BLUE} strokeWidth={1.1} />
    <text x={47} y={18.3} fontSize={22.5} fontFamily={FONT} fill={INK}>signal</text>
    <line x1={6} y1={36.7} x2={41} y2={36.7} stroke={RED} strokeWidth={1.1} />
    <text x={47} y={41} fontSize={22.5} fontFamily={FONT} fill={INK}>exp fit</text>
  </svg>
);

// IDL style inward ticks on all four sides, placed through the chart scales
const frameTicks = (xDomain: [number, number], xMinor: number[], xMajor: number[], plotW: number) => {
  const yPerPx = (yDomain[1] - yDomain[0]) / PLOT_H;
  const xPerPx = (xDomain[1] - xDomain[0]) / plotW;
  const out: React.ReactNode[] = [];
  const style = { stroke: INK, strokeWidth: 1.5, ifOverflow: 'visible' as const };
  xMinor.forEach((v) => {
    const len = (xMajor.includes(v) ? MAJOR_LEN : MINOR_LEN) * yPerPx;
    out.push(
      <ReferenceLine key={`xb${v}`} {...style} segment={[{ x: v, y: yDomain[0] }, { x: v, y: yDomain[0] + len }]} />,
      <ReferenceLine key={`xt${v}`} {...style} segment={[{ x: v, y: yDomain[1] }, { x: v, y: yDomain[1] - len }]} />,
    );
  });
  yMinorTicks.forEach((t) => {
    const len = (yMajorTicks.includes(t) ? MAJOR_LEN : MINOR_LEN) * xPerPx;
    out.push(
      <ReferenceLine key={`yl${t}`} {...style} segment={[{ x: xDomain[0], y: t }, { x: xDomain[0] + len, y: t }]} />,
      <ReferenceLine key={`yr${t}`} {...style} segment={[{ x: xDomain[1], y: t }, { x: xDomain[1] - len, y: t }]} />,
    );
  });
  return out;
};

const outboardSignal = toPoints([...outboardDense, ...outboardUp, ...outboardDown, ...outboardMid, ...outboardBack]);
const outboardFitPts = toPoints(outboardFit);
const topSignal = toPoints([...topSweep1, ...topSweep2, ...topSweep3, ...topSweep4, ...topSweep5]);
const topFitPts = toPoints(topFit);

// bottom/left axes also draw their long ticks inward (negative tickSize)
const axisBase = {
  type: 'number' as const,
  interval: 0 as const,
  allowDataOverflow: true,
  tickSize: -MAJOR_LEN,
  tickMargin: MAJOR_LEN,
  tickLine: { stroke: INK, strokeWidth: 1.5 },
  axisLine: frame,
};

export default function App() {
  return (
    <div style={{ position: 'absolute', left: 0, top: 0, width: 901, height: 385, background: '#fff', fontFamily: FONT }}>
      <div style={{ position: 'absolute', left: 0, top: 0 }}>
        <LineChart width={470} height={385} margin={{ top: 0, right: 0, bottom: 0, left: 0 }}>
          <XAxis {...axisBase} dataKey="v" domain={xDomainA} ticks={xMajorTicksA} height={52}
            tick={BottomLabel} label={{ content: VbLabel }} />
          <XAxis {...axisBase} xAxisId="top" orientation="top" domain={xDomainA} ticks={xMajorTicksA} height={39}
            tick={BlankTick} label={{ content: TitleLabel(titleA) }} />
          <YAxis {...axisBase} domain={yDomain} ticks={yMajorTicks} width={70}
            tick={LeftLabel} label={{ content: IprobeLabel }} />
          <YAxis {...axisBase} yAxisId="right" orientation="right" domain={yDomain} ticks={yMajorTicks} width={13}
            tick={BlankTick} />
          <Legend
            layout="horizontal"
            verticalAlign="middle"
            align="center"
            content={() => <LegendBox />}
            wrapperStyle={{ left: 106, top: 59, width: 127, height: 49, bottom: 'auto', right: 'auto' }}
          />
          {frameTicks(xDomainA, xMinorTicksA, xMajorTicksA, PLOT_W_A)}
          <Line data={outboardSignal} dataKey="i" type="linear" stroke={BLUE} strokeWidth={1.1} dot={false} isAnimationActive={false} legendType="none" />
          <Line data={outboardFitPts} dataKey="i" type="monotone" stroke={RED} strokeWidth={1.3} dot={false} isAnimationActive={false} legendType="none" />
          <ReferenceLine x={outboardFloating} stroke={RED} strokeWidth={1.3} />
        </LineChart>
      </div>

      <div style={{ position: 'absolute', left: 460, top: 0 }}>
        <LineChart width={441} height={385} margin={{ top: 0, right: 0, bottom: 0, left: 0 }}>
          <XAxis {...axisBase} dataKey="v" domain={xDomainB} ticks={xMajorTicksB} height={52}
            tick={BottomLabel} label={{ content: VbLabel }} />
          <XAxis {...axisBase} xAxisId="top" orientation="top" domain={xDomainB} ticks={xMajorTicksB} height={39}
            tick={BlankTick} label={{ content: TitleLabel(titleB) }} />
          <YAxis {...axisBase} domain={yDomain} ticks={yMajorTicks} width={28}
            tick={BlankTick} />
          <YAxis {...axisBase} yAxisId="right" orientation="right" domain={yDomain} ticks={yMajorTicks} width={25}
            tick={BlankTick} label={{ content: ShotLabel }} />
          {frameTicks(xDomainB, xMinorTicksB, xMajorTicksB, PLOT_W_B)}
          <Line data={topSignal} dataKey="i" type="linear" stroke={BLUE} strokeWidth={1.1} dot={false} isAnimationActive={false} />
          <Line data={topFitPts} dataKey="i" type="monotone" stroke={RED} strokeWidth={1.3} dot={false} isAnimationActive={false} />
        </LineChart>
      </div>
    </div>
  );
}
